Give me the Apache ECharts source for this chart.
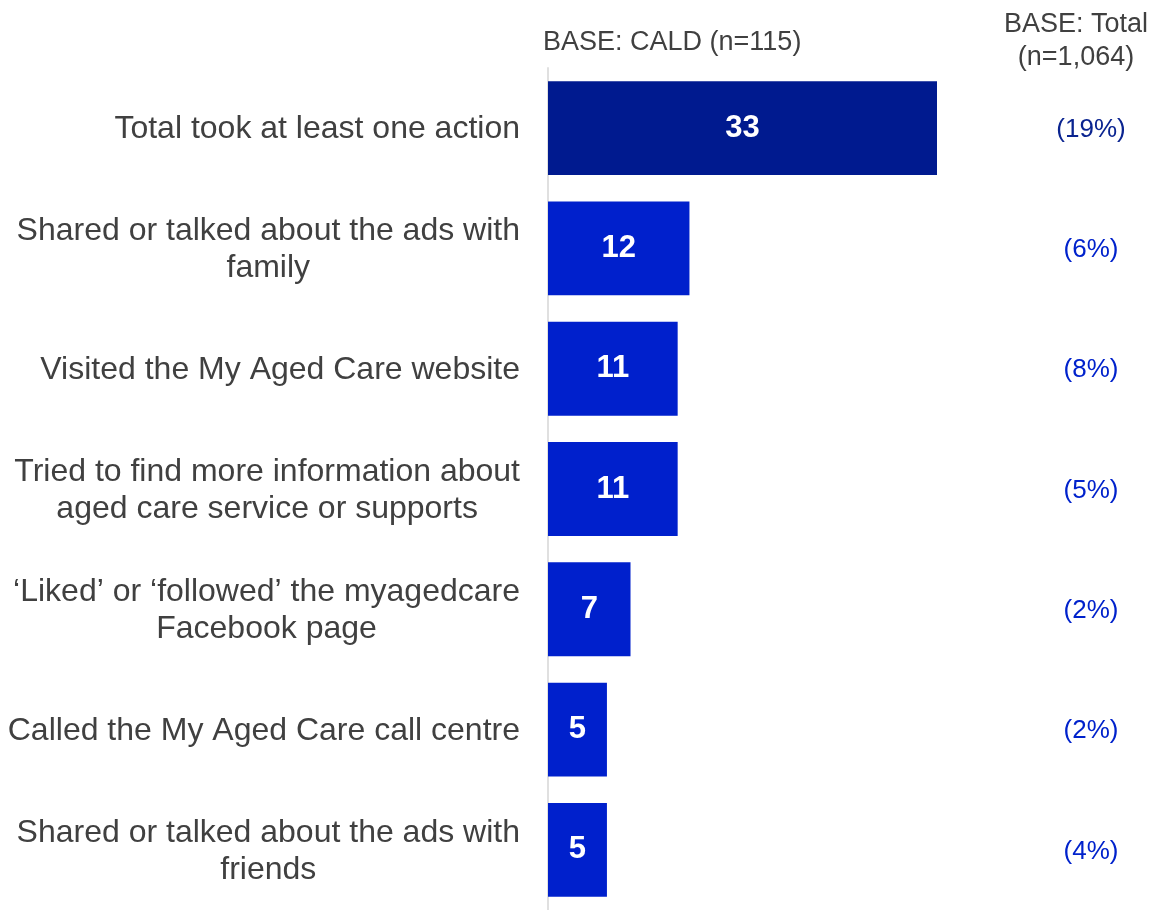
<!DOCTYPE html>
<html>
<head>
<meta charset="utf-8">
<script src="https://cdn.jsdelivr.net/npm/echarts@6/dist/echarts.min.js"></script>
<style>
  html, body { margin: 0; padding: 0; background: #fff; }
  #chart { width: 1157px; height: 910px; }
</style>
</head>
<body>
<div id="chart"></div>
<script>
// actions taken after seeing the ads
const categories = [
  'Total took at least one action',
  'Shared or talked about the ads with\nfamily',
  'Visited the My Aged Care website',
  'Tried to find more information about\naged care service or supports',
  '\u2018Liked\u2019 or \u2018followed\u2019 the myagedcare\nFacebook page',
  'Called the My Aged Care call centre',
  'Shared or talked about the ads with\nfriends'
];
const caldValues = [33, 12, 11, 11, 7, 5, 5];   // BASE: CALD (n=115)
const totalPct = [19, 6, 8, 5, 2, 2, 4];        // BASE: Total (n=1,064)

const FONT = '"Liberation Sans", Arial, sans-serif';
const chart = echarts.init(document.getElementById('chart'));

const option = {
  backgroundColor: '#fff',
  animation: false,
  textStyle: { fontFamily: FONT },
  title: [
    {
      text: 'BASE: CALD (n=115)',
      left: 543,
      top: 29,
      padding: 0,
      textStyle: { fontSize: 27, fontWeight: 'normal', color: '#404040', fontFamily: FONT }
    },
    {
      text: 'BASE: Total\n(n=1,064)',
      left: 1076,
      top: 8,
      padding: 0,
      textAlign: 'center',
      textStyle: { fontSize: 27, fontWeight: 'normal', color: '#404040', fontFamily: FONT, lineHeight: 33 }
    }
  ],
  grid: {
    left: 548,
    right: 220,
    top: 68,
    height: 854,
    containLabel: false
  },
  xAxis: {
    type: 'value',
    min: 0,
    max: 33,
    show: false
  },
  yAxis: [
    {
      type: 'category',
      data: categories,
      inverse: true,
      axisLine: { show: true, lineStyle: { color: '#e0e0e0', width: 2 } },
      axisTick: { show: false },
      axisLabel: {
        margin: 28,
        fontSize: 32,
        color: '#404040',
        fontFamily: FONT,
        formatter: v => v.split('\n').map(l => '{c|' + l + '}').join('\n'),
        rich: {
          c: { align: 'center', fontSize: 32, lineHeight: 37, color: '#404040', fontFamily: FONT, padding: [3, 0, 0, 0] }
        }
      }
    },
    {
      type: 'category',
      data: categories,
      inverse: true,
      position: 'right',
      axisLine: { show: false },
      axisTick: { show: false },
      axisLabel: {
        margin: 154,
        align: 'center',
        formatter: (v, i) => '{' + (i === 0 ? 'a' : 'b') + '|(' + totalPct[i] + '%)}',
        rich: {
          a: { fontSize: 26, color: '#0a2490', fontFamily: FONT, padding: [3, 0, 0, 0] },
          b: { fontSize: 26, color: '#0022cc', fontFamily: FONT, padding: [3, 0, 0, 0] }
        }
      }
    }
  ],
  series: [
    {
      type: 'bar',
      data: caldValues.map((v, i) => ({
        value: v,
        itemStyle: { color: i === 0 ? '#001a8f' : '#0020cc' }
      })),
      barCategoryGap: '22%',
      label: {
        show: true,
        position: 'inside',
        color: '#fff',
        fontSize: 31,
        fontWeight: 'bold',
        fontFamily: FONT,
        padding: [4, 0, 0, 0]
      }
    }
  ]
};

chart.setOption(option);
</script>
</body>
</html>
